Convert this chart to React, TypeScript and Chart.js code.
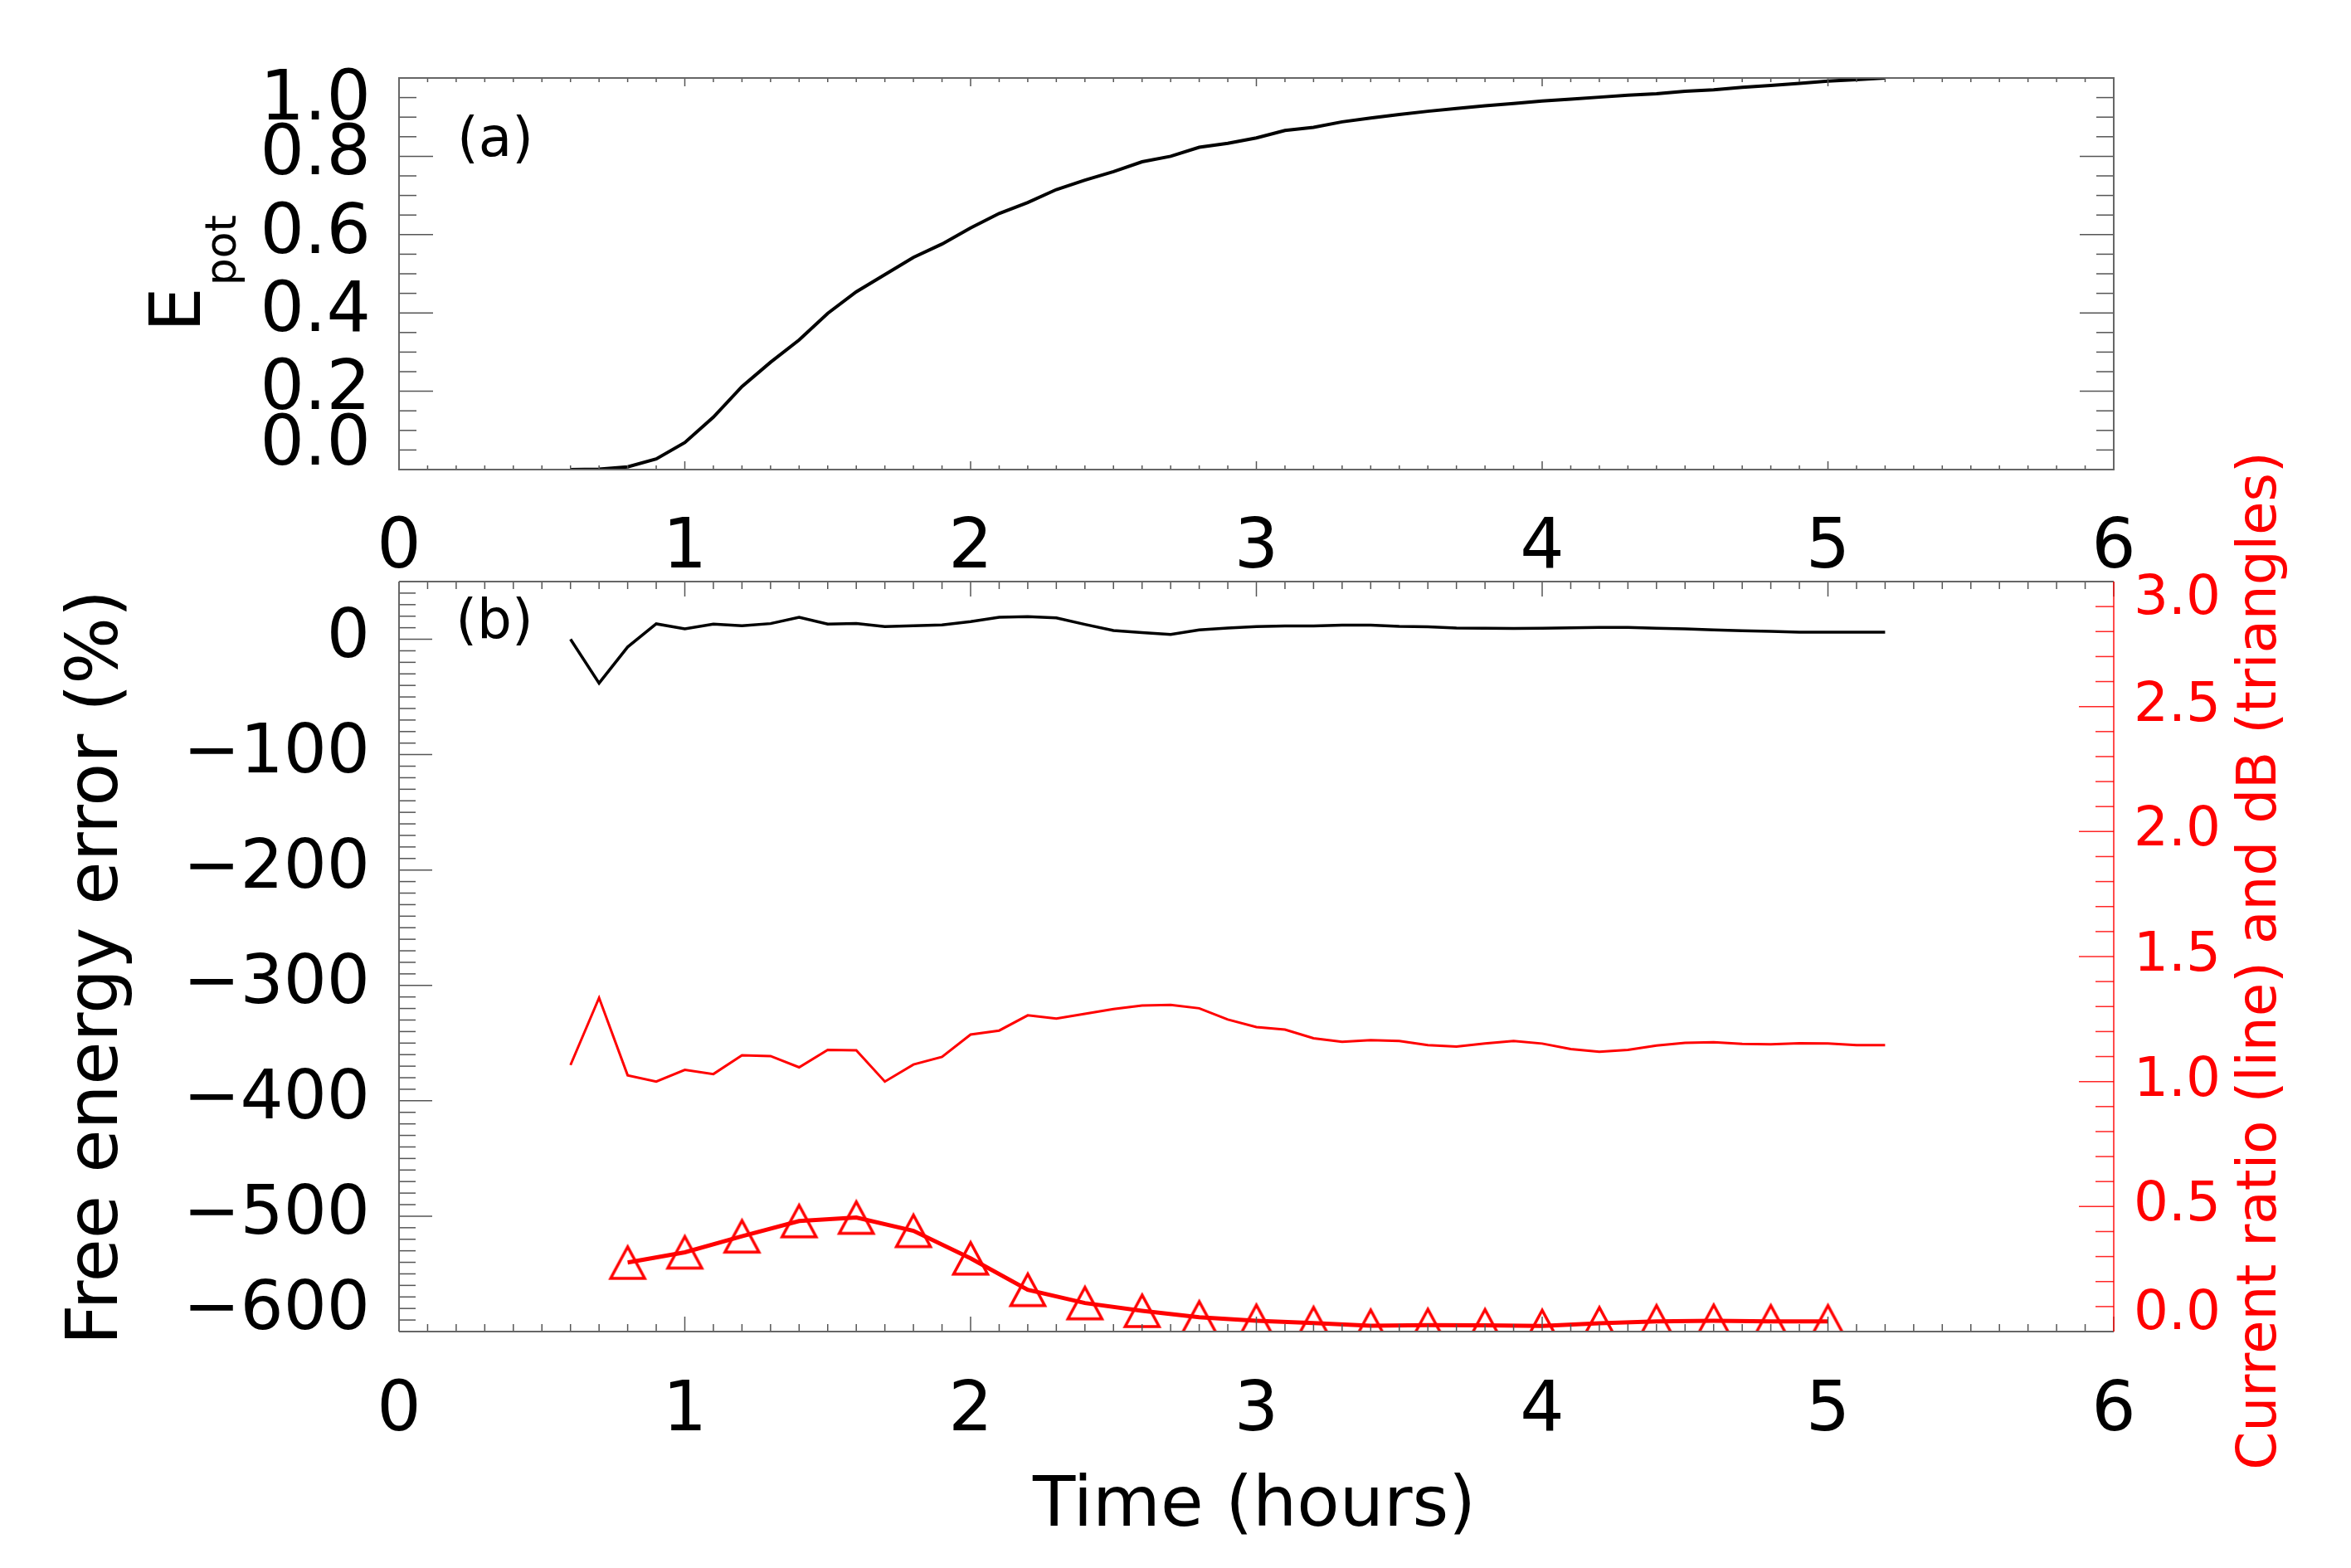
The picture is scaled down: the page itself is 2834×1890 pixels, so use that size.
import React, { useEffect, useRef } from 'react';
import { Chart, registerables } from 'chart.js';

Chart.register(...registerables);

const FONT = "'DejaVu Sans', sans-serif";
const RED = '#ff0000';

// ---------- data ----------
const timeHours = [0.6, 0.7, 0.8, 0.9, 1.0, 1.1, 1.2, 1.3, 1.4, 1.5, 1.6, 1.7, 1.8, 1.9, 2.0, 2.1, 2.2, 2.3, 2.4, 2.5, 2.6, 2.7, 2.8, 2.9, 3.0, 3.1, 3.2, 3.3, 3.4, 3.5, 3.6, 3.7, 3.8, 3.9, 4.0, 4.1, 4.2, 4.3, 4.4, 4.5, 4.6, 4.7, 4.8, 4.9, 5.0, 5.1, 5.2];

const potentialEnergy = [0.000, 0.001, 0.007, 0.027, 0.069, 0.134, 0.212, 0.274, 0.331, 0.399, 0.454, 0.498, 0.542, 0.576, 0.617, 0.654, 0.682, 0.715, 0.739, 0.761, 0.786, 0.800, 0.823, 0.833, 0.847, 0.866, 0.874, 0.888, 0.898, 0.907, 0.915, 0.922, 0.929, 0.935, 0.941, 0.946, 0.951, 0.956, 0.960, 0.966, 0.970, 0.976, 0.981, 0.986, 0.992, 0.996, 1.000];

const freeEnergyError = [0, -38, -6.7, 13.4, 9.1, 13.1, 11.7, 13.6, 19.1, 13.1, 13.6, 11.0, 11.7, 12.4, 15.3, 19.1, 19.6, 18.6, 12.9, 7.6, 5.7, 4.1, 8.1, 9.8, 11.0, 11.5, 11.5, 12.2, 12.2, 11.2, 10.8, 9.8, 9.6, 9.3, 9.6, 10.0, 10.3, 10.3, 9.6, 9.1, 8.1, 7.4, 6.9, 6.2, 6.2, 6.2, 6.2];

const currentRatio = [1.066, 1.335, 1.025, 1.000, 1.047, 1.030, 1.105, 1.102, 1.057, 1.127, 1.125, 1.000, 1.068, 1.099, 1.188, 1.204, 1.265, 1.252, 1.271, 1.290, 1.304, 1.307, 1.293, 1.248, 1.218, 1.208, 1.173, 1.159, 1.166, 1.162, 1.146, 1.140, 1.152, 1.162, 1.152, 1.130, 1.119, 1.127, 1.144, 1.155, 1.157, 1.151, 1.149, 1.153, 1.152, 1.146, 1.146];

const triangleTimes = [0.8, 1.0, 1.2, 1.4, 1.6, 1.8, 2.0, 2.2, 2.4, 2.6, 2.8, 3.0, 3.2, 3.4, 3.6, 3.8, 4.0, 4.2, 4.4, 4.6, 4.8, 5.0];

const dBValues = [0.276, 0.317, 0.381, 0.442, 0.456, 0.403, 0.293, 0.167, 0.114, 0.083, 0.057, 0.043, 0.034, 0.023, 0.026, 0.025, 0.022, 0.033, 0.041, 0.043, 0.041, 0.041];

// ---------- tick labels ----------
const timeTicks = [0, 1, 2, 3, 4, 5, 6];
const epotTicks = [0, 0.2, 0.4, 0.6, 0.8, 1.0];
const errorTicks = [0, -100, -200, -300, -400, -500, -600];
const ratioTicks = [0, 0.5, 1.0, 1.5, 2.0, 2.5, 3.0];

const W = 2834;
const H_A = 700;
const B_OFFSET = 480;
const H_B = 1890 - B_OFFSET;

function line(ctx: CanvasRenderingContext2D, x1: number, y1: number, x2: number, y2: number) {
  ctx.beginPath();
  ctx.moveTo(x1, y1);
  ctx.lineTo(x2, y2);
  ctx.stroke();
}

function makeTriangle(): HTMLCanvasElement {
  const c = document.createElement('canvas');
  c.width = 50;
  c.height = 50;
  const g = c.getContext('2d')!;
  g.strokeStyle = RED;
  g.lineWidth = 3.5;
  g.lineJoin = 'miter';
  g.beginPath();
  g.moveTo(25, 6);
  g.lineTo(4.5, 44);
  g.lineTo(45.5, 44);
  g.closePath();
  g.stroke();
  return c;
}

// nudges edge tick labels inward, as in the original figure
function nudgeLabels(scale: any, shifts: Record<string, number>) {
  if (!scale || !scale.getLabelItems) return;
  const items = scale.getLabelItems();
  items.forEach((it: any, i: number) => {
    const tk = scale.ticks[i];
    if (!tk) return;
    const key = String(tk.value);
    if (shifts[key] !== undefined && it.options && it.options.translation && !it._nudged) {
      it.options.translation[1] += shifts[key];
      it._nudged = true;
    }
  });
}

const decorA = {
  id: 'decorA',
  beforeDraw(chart: any) {
    nudgeLabels(chart.scales.y, { '1': 28, '0': -28 });
  },
  afterDraw(chart: any) {
    const ctx: CanvasRenderingContext2D = chart.ctx;
    const { left, right, top, bottom } = chart.chartArea;
    const xs = chart.scales.x;
    const ys = chart.scales.y;
    ctx.save();
    ctx.strokeStyle = '#555';
    ctx.lineWidth = 1.5;
    for (let i = 0; i <= 60; i++) {
      const px = xs.getPixelForValue(i / 10);
      const len = i % 10 === 0 ? 10 : 5;
      line(ctx, px, bottom, px, bottom - len);
      line(ctx, px, top, px, top + len);
    }
    for (let i = 0; i <= 20; i++) {
      const py = ys.getPixelForValue(i * 0.05);
      const len = i % 4 === 0 ? 41 : 21;
      line(ctx, left, py, left + len, py);
      line(ctx, right, py, right - len, py);
    }
    ctx.strokeStyle = '#666';
    ctx.lineWidth = 2;
    ctx.strokeRect(left, top, right - left, bottom - top);

    ctx.fillStyle = '#000';
    // E_pot title
    ctx.save();
    ctx.translate(241, 400);
    ctx.rotate(-Math.PI / 2);
    ctx.textAlign = 'left';
    ctx.textBaseline = 'alphabetic';
    ctx.font = `85px ${FONT}`;
    ctx.fillText('E', 0, 0);
    const wE = ctx.measureText('E').width;
    ctx.font = `52px ${FONT}`;
    ctx.fillText('pot', wE + 2, 43);
    ctx.restore();

    // (a)
    ctx.font = `66px ${FONT}`;
    ctx.textAlign = 'center';
    ctx.textBaseline = 'middle';
    ctx.fillText('(a)', 597, 171);
    ctx.restore();
  },
};

const decorB = {
  id: 'decorB',
  beforeDraw(chart: any) {
    nudgeLabels(chart.scales.y, { '-600': -24 });
    nudgeLabels(chart.scales.y2, { '3': 22, '0': -20 });
  },
  afterDraw(chart: any) {
    const ctx: CanvasRenderingContext2D = chart.ctx;
    const { left, right, top, bottom } = chart.chartArea;
    const xs = chart.scales.x;
    const ys = chart.scales.y;
    const y2 = chart.scales.y2;
    ctx.save();
    ctx.strokeStyle = '#555';
    ctx.lineWidth = 1.5;
    for (let i = 0; i <= 60; i++) {
      const px = xs.getPixelForValue(i / 10);
      const len = i % 10 === 0 ? 18 : 9;
      line(ctx, px, bottom, px, bottom - len);
      line(ctx, px, top, px, top + len);
    }
    for (let v = -600; v <= 50; v += 10) {
      const py = ys.getPixelForValue(v);
      const len = v % 100 === 0 ? 40 : 20;
      line(ctx, left, py, left + len, py);
    }
    ctx.strokeStyle = 'rgba(255,0,0,0.85)';
    for (let i = 0; i <= 30; i++) {
      const py = y2.getPixelForValue(i / 10);
      const len = i % 5 === 0 ? 42 : 22;
      line(ctx, right, py, right - len, py);
    }
    ctx.strokeStyle = '#666';
    ctx.lineWidth = 2;
    line(ctx, left, top, right, top);
    line(ctx, left, bottom, right, bottom);
    line(ctx, left, top, left, bottom);
    ctx.strokeStyle = 'rgba(255,0,0,0.7)';
    line(ctx, right, top, right, bottom);

    // titles
    ctx.fillStyle = '#000';
    ctx.textAlign = 'center';
    ctx.textBaseline = 'alphabetic';
    ctx.save();
    ctx.translate(141, 1166 - B_OFFSET);
    ctx.rotate(-Math.PI / 2);
    ctx.font = `85px ${FONT}`;
    ctx.fillText('Free energy error (%)', 0, 0);
    ctx.restore();

    ctx.font = `84px ${FONT}`;
    ctx.fillText('Time (hours)', 1512, 1839 - B_OFFSET);

    ctx.save();
    ctx.fillStyle = RED;
    ctx.translate(2743, 1158 - B_OFFSET);
    ctx.rotate(-Math.PI / 2);
    ctx.font = `66px ${FONT}`;
    ctx.fillText('Current ratio (line) and dB (triangles)', 0, 0);
    ctx.restore();

    ctx.font = `66px ${FONT}`;
    ctx.textBaseline = 'middle';
    ctx.fillText('(b)', 596, 752 - B_OFFSET);
    ctx.restore();
  },
};

function xScale(height: number, padding: number) {
  return {
    type: 'linear',
    position: 'bottom',
    min: 0,
    max: 6,
    grid: { display: false, drawTicks: false },
    border: { display: false },
    ticks: {
      font: { family: FONT, size: 84 },
      color: '#000',
      padding,
      maxRotation: 0,
      autoSkip: false,
      callback: (v: any) => String(v),
    },
    afterBuildTicks: (s: any) => {
      s.ticks = timeTicks.map((v) => ({ value: v }));
    },
    afterFit: (s: any) => {
      s.height = height;
    },
  };
}

export default function App() {
  const refA = useRef<HTMLCanvasElement>(null);
  const refB = useRef<HTMLCanvasElement>(null);

  useEffect(() => {
    document.body.style.margin = '0';
    const tri = makeTriangle();

    const chartA = new Chart(refA.current!, {
      type: 'line',
      data: {
        datasets: [
          {
            data: timeHours.map((t, i) => ({ x: t, y: potentialEnergy[i] })),
            borderColor: '#000',
            borderWidth: 4,
            pointRadius: 0,
            tension: 0,
          },
        ],
      },
      options: {
        animation: false,
        responsive: false,
        devicePixelRatio: 1,
        layout: { padding: { top: 94, right: 286, left: 0, bottom: 0 } },
        plugins: { legend: { display: false }, tooltip: { enabled: false }, title: { display: false } },
        scales: {
          x: xScale(134, 46) as any,
          y: {
            type: 'linear',
            min: 0,
            max: 1,
            grid: { display: false, drawTicks: false },
            border: { display: false },
            ticks: {
              font: { family: FONT, size: 84 },
              color: '#000',
              padding: 34,
              autoSkip: false,
              callback: (v: any) => Number(v).toFixed(1),
            },
            afterBuildTicks: (s: any) => {
              s.ticks = epotTicks.map((v) => ({ value: v }));
            },
            afterFit: (s: any) => {
              s.width = 481;
            },
          } as any,
        },
      },
      plugins: [decorA],
    });

    const chartB = new Chart(refB.current!, {
      type: 'line',
      data: {
        datasets: [
          {
            data: timeHours.map((t, i) => ({ x: t, y: freeEnergyError[i] })),
            yAxisID: 'y',
            borderColor: '#000',
            borderWidth: 3.5,
            pointRadius: 0,
            tension: 0,
          },
          {
            data: timeHours.map((t, i) => ({ x: t, y: currentRatio[i] })),
            yAxisID: 'y2',
            borderColor: RED,
            borderWidth: 3,
            pointRadius: 0,
            tension: 0,
          },
          {
            data: triangleTimes.map((t, i) => ({ x: t, y: dBValues[i] })),
            yAxisID: 'y2',
            borderColor: RED,
            borderWidth: 5,
            pointStyle: tri as any,
            pointRadius: 20,
            tension: 0,
            clip: 0,
          } as any,
        ],
      },
      options: {
        animation: false,
        responsive: false,
        devicePixelRatio: 1,
        layout: { padding: { top: 701 - B_OFFSET, right: 0, left: 0, bottom: 0 } },
        plugins: { legend: { display: false }, tooltip: { enabled: false }, title: { display: false } },
        scales: {
          x: xScale(285, 47) as any,
          y: {
            type: 'linear',
            position: 'left',
            min: -600,
            max: 50,
            grid: { display: false, drawTicks: false },
            border: { display: false },
            ticks: {
              font: { family: FONT, size: 82 },
              color: '#000',
              padding: 35,
              autoSkip: false,
              callback: (v: any) => (Number(v) < 0 ? '\u2212' + String(-Number(v)) : String(v)),
            },
            afterBuildTicks: (s: any) => {
              s.ticks = errorTicks.map((v) => ({ value: v }));
            },
            afterFit: (s: any) => {
              s.width = 481;
            },
          } as any,
          y2: {
            type: 'linear',
            position: 'right',
            min: 0,
            max: 3,
            grid: { display: false, drawTicks: false },
            border: { display: false },
            ticks: {
              font: { family: FONT, size: 66 },
              color: RED,
              padding: 24,
              autoSkip: false,
              callback: (v: any) => Number(v).toFixed(1),
            },
            afterBuildTicks: (s: any) => {
              s.ticks = ratioTicks.map((v) => ({ value: v }));
            },
            afterFit: (s: any) => {
              s.width = 286;
            },
          } as any,
        },
      },
      plugins: [decorB],
    });

    return () => {
      chartA.destroy();
      chartB.destroy();
    };
  }, []);

  return (
    <div style={{ position: 'relative', width: W, height: 1890, background: '#fff' }}>
      <canvas
        ref={refA}
        width={W}
        height={H_A}
        style={{ position: 'absolute', left: 0, top: 0, width: W, height: H_A }}
      />
      <canvas
        ref={refB}
        width={W}
        height={H_B}
        style={{ position: 'absolute', left: 0, top: B_OFFSET, width: W, height: H_B }}
      />
    </div>
  );
}
